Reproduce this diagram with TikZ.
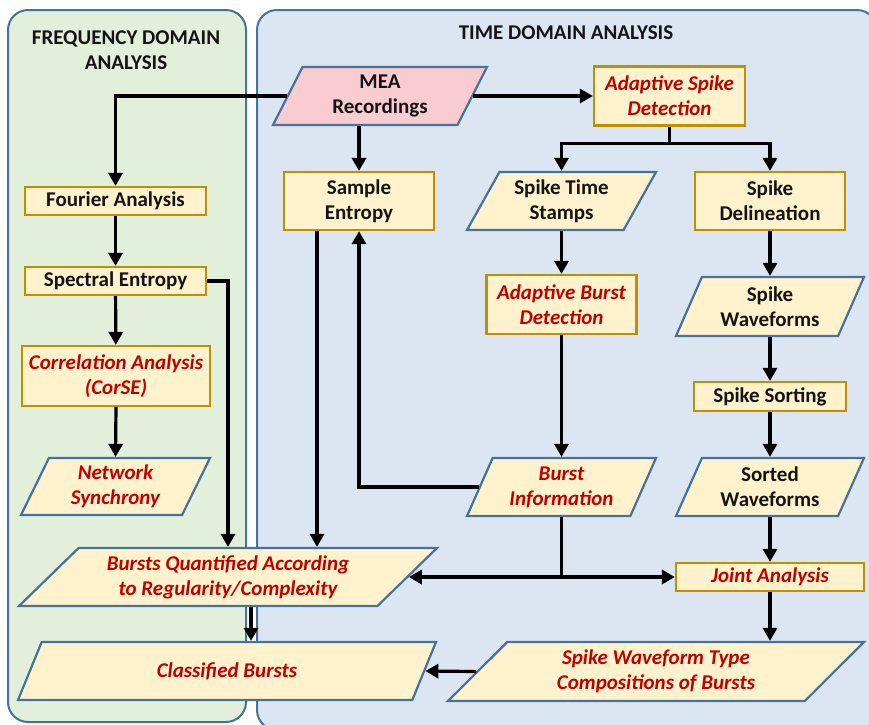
\documentclass[tikz,border=0pt]{standalone}
\usepackage{fontspec}
\setmainfont{Carlito}
\usetikzlibrary{shapes.geometric,arrows.meta}
\definecolor{pgreen}{RGB}{226,239,218}
\definecolor{pblue}{RGB}{220,230,243}
\definecolor{pborder}{RGB}{70,114,156}
\definecolor{boxfill}{RGB}{255,242,204}
\definecolor{boxgold}{RGB}{191,144,0}
\definecolor{meapink}{RGB}{248,204,208}
\definecolor{txtred}{RGB}{192,0,0}
\definecolor{txtblk}{RGB}{20,20,20}
\tikzset{
  lbl/.style={font=\bfseries\fontsize{21}{25}\selectfont, text=txtblk, align=center},
  redlbl/.style={font=\bfseries\itshape\fontsize{21}{25}\selectfont, text=txtred, align=center},
  rbox/.style={draw=boxgold, fill=boxfill, line width=2.2pt, inner sep=0pt, align=center},
  para/.style={trapezium, trapezium stretches body, draw=pborder, fill=boxfill,
    line width=2.2pt, inner sep=0pt, align=center},
  panel/.style={draw=pborder, line width=2pt, rounded corners=20pt},
  arr/.style={draw=black, line width=3.2pt, -{Triangle[length=13pt,width=14pt]}},
  plain/.style={draw=black, line width=3.2pt}
}
\begin{document}
\begin{tikzpicture}[x=1pt,y=-1pt]
\useasboundingbox (0,0) rectangle (869,724);
\begin{scope}
\clip (0,0) rectangle (869,724);
\path[panel, fill=pgreen] (8,10) rectangle (246,722);
\path[panel, fill=pblue] (257,10) rectangle (877,730);
\end{scope}

\node[lbl] (tfreq) at (126,50) {FREQUENCY DOMAIN\\ANALYSIS};
\node[lbl] (ttime) at (566,33) {TIME DOMAIN ANALYSIS};

% parallelograms
\node[para, lbl, fill=meapink, trapezium left angle=55, trapezium right angle=125,
  minimum width=214pt, minimum height=58pt] (mea) at (380,96) {MEA\\Recordings};
\node[para, lbl, trapezium left angle=53, trapezium right angle=127,
  minimum width=189pt, minimum height=58pt] (sts) at (561.5,201) {Spike Time\\Stamps};
\node[para, redlbl, trapezium left angle=57, trapezium right angle=123,
  minimum width=189pt, minimum height=57pt] (netsync) at (115.5,486.5) {Network\\Synchrony};
\node[para, lbl, trapezium left angle=57, trapezium right angle=123,
  minimum width=188pt, minimum height=59pt] (swf) at (770,306.5) {Spike\\Waveforms};
\node[para, redlbl, trapezium left angle=58, trapezium right angle=122,
  minimum width=189pt, minimum height=58pt] (binfo) at (561.5,487) {Burst\\Information};
\node[para, lbl, trapezium left angle=57, trapezium right angle=123,
  minimum width=188pt, minimum height=58pt] (sorted) at (770,487) {Sorted\\Waveforms};
\node[para, redlbl, trapezium left angle=36, trapezium right angle=144,
  minimum width=416pt, minimum height=59pt] (swt) at (656,671.5) {Spike Waveform Type\\Compositions of Bursts};
\node[para, redlbl, trapezium left angle=36, trapezium right angle=144,
  minimum width=418pt, minimum height=58pt] (bq) at (228,577) {Bursts Quantified According\\to Regularity/Complexity};
\node[para, redlbl, trapezium left angle=36, trapezium right angle=144,
  minimum width=418pt, minimum height=58pt] (cb) at (227,671) {Classified Bursts};

% rectangles
\node[rbox, redlbl, minimum width=151pt, minimum height=59pt] (asd) at (669.5,96) {Adaptive Spike\\Detection};
\node[rbox, lbl, minimum width=181pt, minimum height=28pt] (fourier) at (115.5,201) {Fourier Analysis};
\node[rbox, lbl, minimum width=181pt, minimum height=28pt] (spectral) at (115.5,281) {Spectral Entropy};
\node[rbox, redlbl, minimum width=188pt, minimum height=60pt] (corse) at (116,376) {Correlation Analysis\\(CorSE)};
\node[rbox, lbl, minimum width=150pt, minimum height=58pt] (sampen) at (359,201) {Sample\\Entropy};
\node[rbox, lbl, minimum width=150pt, minimum height=58pt] (sdel) at (770,201) {Spike\\Delineation};
\node[rbox, redlbl, minimum width=150pt, minimum height=59pt] (abd) at (561.5,304.5) {Adaptive Burst\\Detection};
\node[rbox, lbl, minimum width=152pt, minimum height=29pt] (ssort) at (770,396.5) {Spike Sorting};
\node[rbox, redlbl, minimum width=188pt, minimum height=28pt] (joint) at (770,577) {Joint Analysis};

% connectors
\draw[arr] (mea.left side) -| (fourier.north);
\draw[arr] (mea.right side) -- (asd.west);
\draw[arr] (sampen.north |- mea.bottom side) -- (sampen.north);
\draw[plain] (asd.south) -- ++(0,17) coordinate (split);
\draw[arr] (split) -| (sts.center |- sts.top side);
\draw[arr] (split) -| (sdel.north);
\draw[arr] (sts.center |- sts.bottom side) -- (abd.north);
\draw[arr] (abd.south) -- (binfo.center |- binfo.top side);
\draw[arr] (binfo.left side) -| (sampen.south);
\coordinate (sx) at ([xshift=-42pt]sampen.south);
\draw[arr] (sx) -- (sx |- bq.top side);
\draw[arr] (spectral.east) -| (bq.center |- bq.top side);
\draw[arr] (fourier) -- (spectral);
\draw[arr] (spectral) -- (corse);
\draw[arr] (corse.south) -- (netsync.center |- netsync.top side);
\coordinate (j) at (binfo.center |- joint.west);
\draw[plain] (binfo.center |- binfo.bottom side) -- (j);
\draw[arr] (j) -- (bq.right side);
\draw[arr] (j) -- (joint.west);
\draw[arr] (sdel.south) -- (swf.center |- swf.top side);
\draw[arr] (swf.center |- swf.bottom side) -- (ssort.north);
\draw[arr] (ssort.south) -- (sorted.center |- sorted.top side);
\draw[arr] (sorted.center |- sorted.bottom side) -- (joint.north);
\draw[arr] (joint.south) -- (joint.south |- swt.top side);
\draw[arr] (swt.left side) -- (cb.right side);
\coordinate (bx) at ([xshift=23pt]bq.center);
\draw[arr] (bx |- bq.bottom side) -- (bx |- cb.top side);
\end{tikzpicture}
\end{document}
